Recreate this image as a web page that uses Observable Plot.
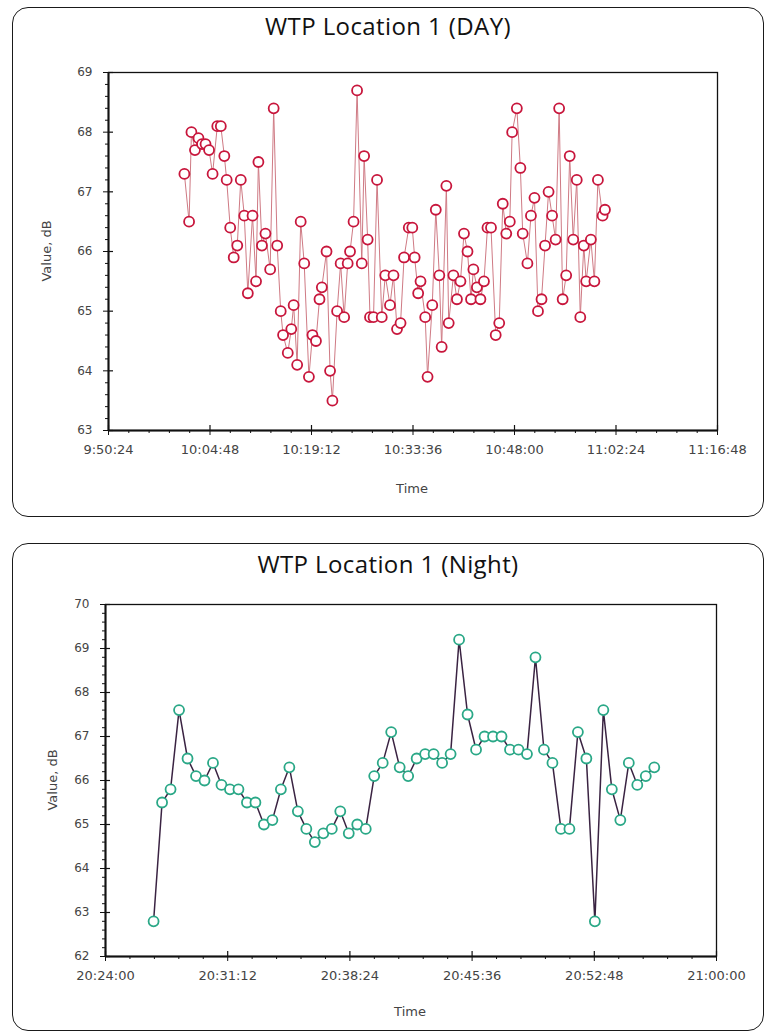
<!DOCTYPE html>
<html>
<head>
<meta charset="utf-8">
<script src="https://cdn.jsdelivr.net/npm/d3@7"></script>
<script src="https://cdn.jsdelivr.net/npm/@observablehq/plot@0.6"></script>
<style>
  html, body { margin: 0; padding: 0; background: #fff; }
  #page { position: relative; width: 766px; height: 1036px; overflow: hidden; background: #fff; }
  .box { position: absolute; border: 1.6px solid #1a1a1a; border-radius: 16px; box-sizing: border-box; }
  .title { position: absolute; left: 0; width: 776px; text-align: center; font-family: "Open Sans", sans-serif; font-size: 24px; letter-spacing: 0.4px; color: #111; }
  .xlab { position: absolute; font-family: "DejaVu Sans", sans-serif; font-size: 13px; color: #444; transform: translateX(-50%); }
  .ylab { position: absolute; font-family: "DejaVu Sans", sans-serif; font-size: 13px; color: #444; transform: translate(-50%, -50%) rotate(-90deg); white-space: nowrap; }
  .chart { position: absolute; left: 0; }
</style>
</head>
<body>
<div id="page">
  <div class="box" style="left:12px; top:7px; width:752px; height:510px;"></div>
  <div class="title" style="top:9px;">WTP Location 1 (DAY)</div>
  <div class="xlab" style="left:412px; top:481px;">Time</div>
  <div class="ylab" style="left:46px; top:251px;">Value, dB</div>
  <div id="day" class="chart" style="top:0px;"></div>

  <div class="box" style="left:12px; top:543px; width:752px; height:488px;"></div>
  <div class="title" style="top:547px;">WTP Location 1 (Night)</div>
  <div class="xlab" style="left:410px; top:1004px;">Time</div>
  <div class="ylab" style="left:52px; top:780px;">Value, dB</div>
  <div id="night" class="chart" style="top:530px;"></div>
</div>
<script>
// ---------- DATA ----------
const dayTimes = [
"10:01:10","10:01:50","10:02:10","10:02:40","10:03:10","10:03:40","10:04:10","10:04:40","10:05:10","10:05:50",
"10:06:20","10:06:50","10:07:10","10:07:40","10:08:10","10:08:40","10:09:10","10:09:40","10:10:10","10:10:50",
"10:11:20","10:11:40","10:12:10","10:12:40","10:13:20","10:13:50","10:14:20","10:14:50","10:15:10","10:15:50",
"10:16:20","10:16:40","10:17:10","10:17:40","10:18:10","10:18:50","10:19:20","10:19:50","10:20:20","10:20:40",
"10:21:20","10:21:50","10:22:10","10:22:50","10:23:20","10:23:50","10:24:20","10:24:40","10:25:10","10:25:40",
"10:26:20","10:26:40","10:27:10","10:27:30","10:28:00","10:28:30","10:29:10","10:29:40","10:30:20","10:30:50",
"10:31:20","10:31:50","10:32:20","10:33:00","10:33:30","10:33:50","10:34:20","10:34:40","10:35:20","10:35:40",
"10:36:20","10:36:50","10:37:20","10:37:40","10:38:20","10:38:40","10:39:20","10:39:50","10:40:20","10:40:50",
"10:41:20","10:41:50","10:42:10","10:42:40","10:43:10","10:43:40","10:44:10","10:44:40","10:45:20","10:45:50",
"10:46:20","10:46:50","10:47:20","10:47:40","10:48:20","10:48:50","10:49:10","10:49:50","10:50:20","10:50:50",
"10:51:20","10:51:50","10:52:20","10:52:50","10:53:20","10:53:50","10:54:20","10:54:50","10:55:20","10:55:50",
"10:56:20","10:56:50","10:57:20","10:57:50","10:58:10","10:58:50","10:59:20","10:59:50","11:00:30","11:00:50"
];
const dayValues = [
67.3,66.5,68.0,67.7,67.9,67.8,67.8,67.7,67.3,68.1,
68.1,67.6,67.2,66.4,65.9,66.1,67.2,66.6,65.3,66.6,
65.5,67.5,66.1,66.3,65.7,68.4,66.1,65.0,64.6,64.3,
64.7,65.1,64.1,66.5,65.8,63.9,64.6,64.5,65.2,65.4,
66.0,64.0,63.5,65.0,65.8,64.9,65.8,66.0,66.5,68.7,
65.8,67.6,66.2,64.9,64.9,67.2,64.9,65.6,65.1,65.6,
64.7,64.8,65.9,66.4,66.4,65.9,65.3,65.5,64.9,63.9,
65.1,66.7,65.6,64.4,67.1,64.8,65.6,65.2,65.5,66.3,
66.0,65.2,65.7,65.4,65.2,65.5,66.4,66.4,64.6,64.8,
66.8,66.3,66.5,68.0,68.4,67.4,66.3,65.8,66.6,66.9,
65.0,65.2,66.1,67.0,66.6,66.2,68.4,65.2,65.6,67.6,
66.2,67.2,64.9,66.1,65.5,66.2,65.5,67.2,66.6,66.7
];
const dayXTicks = ["9:50:24","10:04:48","10:19:12","10:33:36","10:48:00","11:02:24","11:16:48"];
const dayYTicks = [63, 64, 65, 66, 67, 68, 69];

const nightTimes = [
"20:26:50","20:27:20","20:27:50","20:28:20","20:28:50","20:29:20","20:29:50","20:30:20","20:30:50","20:31:20",
"20:31:50","20:32:20","20:32:50","20:33:20","20:33:50","20:34:20","20:34:50","20:35:20","20:35:50","20:36:20",
"20:36:50","20:37:20","20:37:50","20:38:20","20:38:50","20:39:20","20:39:50","20:40:20","20:40:50","20:41:20",
"20:41:50","20:42:20","20:42:50","20:43:20","20:43:50","20:44:20","20:44:50","20:45:20","20:45:50","20:46:20",
"20:46:50","20:47:20","20:47:50","20:48:20","20:48:50","20:49:20","20:49:50","20:50:20","20:50:50","20:51:20",
"20:51:50","20:52:20","20:52:50","20:53:20","20:53:50","20:54:20","20:54:50","20:55:20","20:55:50","20:56:20"
];
const nightValues = [
62.8,65.5,65.8,67.6,66.5,66.1,66.0,66.4,65.9,65.8,
65.8,65.5,65.5,65.0,65.1,65.8,66.3,65.3,64.9,64.6,
64.8,64.9,65.3,64.8,65.0,64.9,66.1,66.4,67.1,66.3,
66.1,66.5,66.6,66.6,66.4,66.6,69.2,67.5,66.7,67.0,
67.0,67.0,66.7,66.7,66.6,68.8,66.7,66.4,64.9,64.9,
67.1,66.5,62.8,67.6,65.8,65.1,66.4,65.9,66.1,66.3
];
const nightXTicks = ["20:24:00","20:31:12","20:38:24","20:45:36","20:52:48","21:00:00"];
const nightYTicks = [62, 63, 64, 65, 66, 67, 68, 69, 70];

// ---------- HELPERS ----------
function parseT(s) {
  const [h, m, sec] = s.split(":").map(Number);
  return new Date(Date.UTC(2020, 0, 1, h, m, sec));
}
const fmt = d3.utcFormat("%-H:%M:%S");

function minorBetween(ticks, n) {
  const out = [];
  for (let i = 0; i < ticks.length - 1; i++) {
    const a = +ticks[i], b = +ticks[i + 1];
    for (let k = 1; k < n; k++) out.push(a + (b - a) * k / n);
  }
  return out;
}

function makeChart({times, values, xTicks, yTicks, width, height, mt, mr, mb, ml, lineColor, lineWidth, dotColor, xFont}) {
  const data = times.map((t, i) => ({t: parseT(t), v: values[i]}));
  const xt = xTicks.map(parseT);
  const xMinor = minorBetween(xt, 5).map(d => new Date(d));
  const yMinor = minorBetween(yTicks, 5);
  const pw = width - ml - mr, ph = height - mt - mb;
  return Plot.plot({
    width, height,
    marginTop: mt, marginRight: mr, marginBottom: mb, marginLeft: ml,
    style: {background: "transparent", fontFamily: "DejaVu Sans", color: "#444", overflow: "visible"},
    x: {type: "utc", domain: [xt[0], xt[xt.length - 1]], label: null},
    y: {domain: [yTicks[0], yTicks[yTicks.length - 1]], label: null},
    marks: [
      Plot.frame({stroke: "#111", strokeWidth: 1.3}),
      // minor ticks (outward)
      Plot.axisY({ticks: yMinor, tickSize: 3, tickFormat: () => "", label: null, stroke: "#111"}),
      Plot.axisX({ticks: xMinor, tickSize: 3, tickFormat: () => "", label: null, stroke: "#111"}),
      // major ticks with labels (outward)
      Plot.axisY({ticks: yTicks, tickSize: 5, tickPadding: 11, tickFormat: d => String(d), label: null, fontSize: 12, stroke: "#111", fill: "#444"}),
      Plot.axisX({ticks: xt, tickSize: 5, tickPadding: 9, tickFormat: fmt, label: null, fontSize: xFont, stroke: "#111", fill: "#444"}),
      // inward part of major ticks
      Plot.ruleY(yTicks, {y: d => d, insetRight: pw - 5, stroke: "#111", strokeWidth: 1.2}),
      Plot.ruleX(xt, {x: d => d, insetTop: ph - 5, stroke: "#111", strokeWidth: 1.2}),
      // heavier axis lines
      Plot.ruleX([xt[0]], {stroke: "#111", strokeWidth: 2}),
      Plot.ruleY([yTicks[0]], {stroke: "#111", strokeWidth: 2}),
      Plot.line(data, {x: "t", y: "v", stroke: lineColor, strokeWidth: lineWidth}),
      Plot.dot(data, {x: "t", y: "v", r: 5, fill: "white", stroke: dotColor, strokeWidth: 1.8})
    ]
  });
}

document.getElementById("day").appendChild(makeChart({
  times: dayTimes, values: dayValues, xTicks: dayXTicks, yTicks: dayYTicks,
  width: 766, height: 520, mt: 72, mr: 49, mb: 90, ml: 108,
  lineColor: "#cf7a84", lineWidth: 1, dotColor: "#c8163c", xFont: 13
}));

document.getElementById("night").appendChild(makeChart({
  times: nightTimes, values: nightValues, xTicks: nightXTicks, yTicks: nightYTicks,
  width: 766, height: 506, mt: 74, mr: 50, mb: 80, ml: 105,
  lineColor: "#3a2342", lineWidth: 1.5, dotColor: "#2aa887", xFont: 13
}));
</script>
</body>
</html>
